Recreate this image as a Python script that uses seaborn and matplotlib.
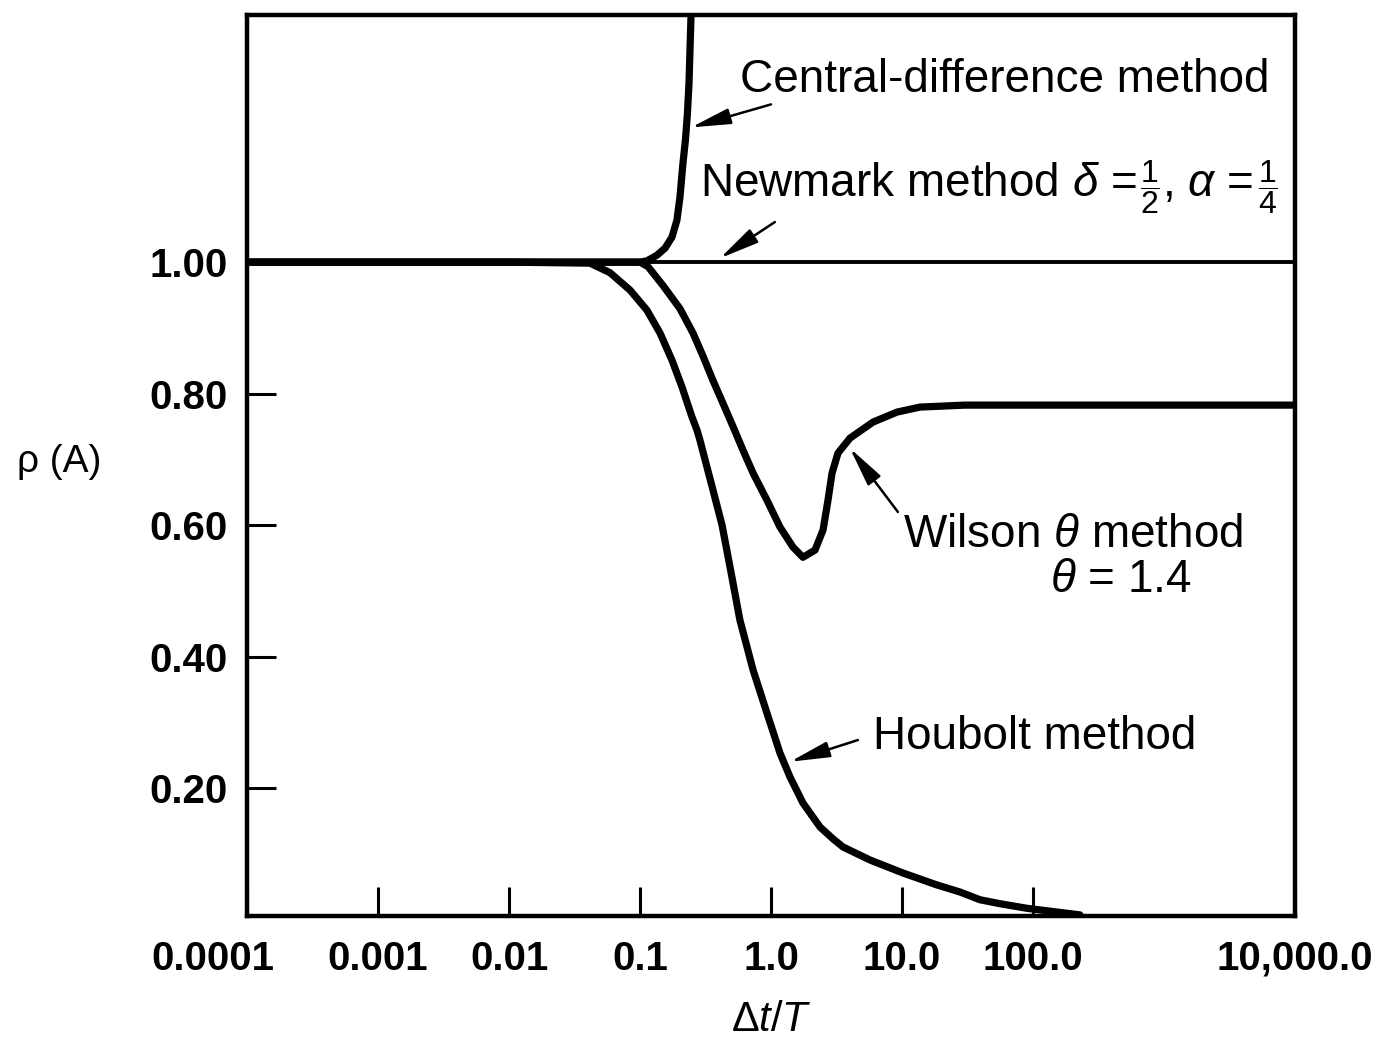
import numpy as np
import pandas as pd
import matplotlib
matplotlib.use("Agg")
import matplotlib.pyplot as plt
import seaborn as sns
from matplotlib.transforms import ScaledTranslation

# ---- data ----
newmark_x = [1e-4, 1e4]
newmark_y = [1.0, 1.0]

cd_x = [1e-4, 0.01, 0.10, 0.113, 0.1349, 0.1552, 0.1754, 0.1914, 0.2018, 0.2128,
        0.2220, 0.2300, 0.2366, 0.245, 0.249]
cd_y = [1.0, 1.0, 1.0, 1.002, 1.0106, 1.0213, 1.038, 1.0639, 1.0989, 1.1506,
        1.185, 1.225, 1.272, 1.373, 1.444]

wilson_x = [1e-4, 0.01, 0.10, 0.1151, 0.150, 0.2018, 0.254, 0.3027, 0.3606, 0.4305,
            0.5129, 0.611, 0.730, 0.931, 1.171, 1.472, 1.754, 2.168, 2.495, 2.724,
            2.923, 3.245, 4.009, 6.01, 9.16, 13.7, 30.0, 1e4]
wilson_y = [1.0, 1.0, 1.0, 0.9932, 0.9643, 0.9293, 0.892, 0.857, 0.820, 0.785,
            0.750, 0.714, 0.679, 0.638, 0.597, 0.5665, 0.551, 0.562, 0.5924, 0.638,
            0.679, 0.7095, 0.7323, 0.7567, 0.7719, 0.7795, 0.7825, 0.7825]

houbolt_x = [1e-4, 0.01, 0.0415, 0.059, 0.084, 0.1129, 0.1423, 0.1754, 0.2094, 0.2495,
             0.2723, 0.287, 0.361, 0.423, 0.4955, 0.579, 0.730, 0.931, 1.171, 1.397,
             1.754, 2.366, 3.000, 3.546, 5.70, 10.18, 18.5, 27.7, 39.4, 56.0, 90.0, 228.0]
houbolt_y = [1.0, 1.0, 0.9985, 0.984, 0.9574, 0.927, 0.892, 0.8509, 0.8099, 0.7643,
             0.7445, 0.729, 0.653, 0.600, 0.528, 0.4555, 0.3795, 0.3141, 0.2532, 0.2167,
             0.1772, 0.1407, 0.1220, 0.1103, 0.0905, 0.0707, 0.0525, 0.0418, 0.030, 0.024,
             0.017, 0.007]

xtick_vals = [1e-4, 1e-3, 1e-2, 1e-1, 1, 10, 100, 1e4]
xtick_labels = ["0.0001", "0.001", "0.01", "0.1", "1.0", "10.0", "100.0", "10,000.0"]
ytick_vals = [0.2, 0.4, 0.6, 0.8, 1.0]
ytick_labels = ["0.20", "0.40", "0.60", "0.80", "1.00"]

# ---- style ----
sns.set_style("white")
plt.rcParams["font.family"] = ["Liberation Sans", "DejaVu Sans"]
plt.rcParams["text.color"] = "black"
plt.rcParams["mathtext.fontset"] = "custom"
plt.rcParams["mathtext.rm"] = "Liberation Sans"
plt.rcParams["mathtext.it"] = "Liberation Sans:italic"
plt.rcParams["mathtext.bf"] = "Liberation Sans:bold"

fig = plt.figure(figsize=(13.8, 10.4), dpi=100)
ax = fig.add_axes([247 / 1380, 1 - 916 / 1040, (1295 - 247) / 1380, (916 - 15) / 1040])

sns.lineplot(x=newmark_x, y=newmark_y, ax=ax, color="black", linewidth=2.8,
             sort=False, estimator=None)
for xs, ys in [(cd_x, cd_y), (wilson_x, wilson_y), (houbolt_x, houbolt_y)]:
    sns.lineplot(x=xs, y=ys, ax=ax, color="black", linewidth=5.2,
                 sort=False, estimator=None, solid_capstyle="round",
                 solid_joinstyle="round")

ax.set_xscale("log")
ax.set_xlim(1e-4, 1e4)
ax.set_ylim(0.0053, 1.376)
ax.set_xticks(xtick_vals)
ax.set_xticklabels(xtick_labels)
ax.minorticks_off()
ax.set_yticks(ytick_vals)
ax.set_yticklabels(ytick_labels)
ax.set_xlabel("")
ax.set_ylabel("")

for s in ax.spines.values():
    s.set_linewidth(3.2)
    s.set_color("black")

ax.tick_params(axis="both", which="major", direction="in", length=21, width=2.2,
               color="black", labelsize=29, labelcolor="black",
               bottom=True, left=True, top=False, right=False)
ax.tick_params(axis="x", pad=17)
ax.tick_params(axis="y", pad=14)
for lbl in ax.get_xticklabels() + ax.get_yticklabels():
    lbl.set_fontweight("bold")

# shift first x label left
first = ax.get_xticklabels()[0]
first.set_transform(first.get_transform() + ScaledTranslation(-0.34, 0, fig.dpi_scale_trans))

# axis titles
fig.text(59 / 1380, 1 - 462 / 1040, "ρ (A)", fontsize=28, ha="center", va="center",
         color="black")
fig.text(771 / 1380, 1 - 1020 / 1040, r"$\Delta t/T$", fontsize=30, ha="center",
         va="center", color="black")

# annotations
afs = 33
ffs = 23
arrow = dict(arrowstyle="-|>,head_width=0.22,head_length=1.1", color="black",
             lw=1.8, shrinkA=0, shrinkB=0, mutation_scale=22)

ax.text(0.579, 1.277, "Central-difference method", fontsize=afs, ha="left", va="center")
ax.annotate("", xy=(0.245, 1.205), xytext=(1.0, 1.24), arrowprops=arrow)

ax.text(0.287, 1.1004, r"Newmark method $\delta$ =", fontsize=afs, ha="left", va="baseline")
ax.text(656, 1.1141, r"$\dfrac{1}{2}$", fontsize=ffs, ha="left", va="center")
ax.text(966, 1.1004, r", $\alpha$ =", fontsize=afs, ha="left", va="baseline")
ax.text(5224, 1.1141, r"$\dfrac{1}{4}$", fontsize=ffs, ha="left", va="center")
ax.annotate("", xy=(0.408, 1.006), xytext=(1.07, 1.061), arrowprops=arrow)

ax.text(10.2, 0.585, r"Wilson $\theta$ method", fontsize=afs, ha="left", va="center")
ax.text(135, 0.517, r"$\theta$ = 1.4", fontsize=afs, ha="left", va="center")
ax.annotate("", xy=(4.0, 0.717), xytext=(9.3, 0.620), arrowprops=arrow)

ax.text(6.0, 0.278, "Houbolt method", fontsize=afs, ha="left", va="center")
ax.annotate("", xy=(1.40, 0.240), xytext=(4.61, 0.273), arrowprops=arrow)

fig.savefig("out.png", dpi=100, facecolor="white")
